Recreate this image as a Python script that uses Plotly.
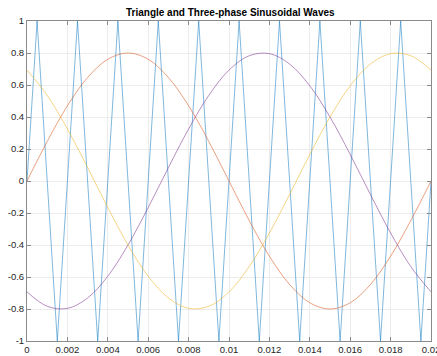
import plotly.graph_objects as go

# Time samples (s)
t_sin = [0.000, 0.001, 0.002, 0.003, 0.004, 0.005, 0.006, 0.007, 0.008, 0.009, 0.010,
         0.011, 0.012, 0.013, 0.014, 0.015, 0.016, 0.017, 0.018, 0.019, 0.020]
phase_a = [0.000, 0.247, 0.470, 0.647, 0.761, 0.800, 0.761, 0.647, 0.470, 0.247, 0.000,
           -0.247, -0.470, -0.647, -0.761, -0.800, -0.761, -0.647, -0.470, -0.247, 0.000]
phase_b = [-0.693, -0.783, -0.796, -0.731, -0.595, -0.400, -0.166, 0.084, 0.325, 0.535, 0.693,
           0.783, 0.796, 0.731, 0.595, 0.400, 0.166, -0.084, -0.325, -0.535, -0.693]
phase_c = [0.693, 0.535, 0.325, 0.084, -0.166, -0.400, -0.595, -0.731, -0.796, -0.783, -0.693,
           -0.535, -0.325, -0.084, 0.166, 0.400, 0.595, 0.731, 0.796, 0.783, 0.693]

# Triangle wave vertices
t_tri = [0.0, 0.0005, 0.0015, 0.0025, 0.0035, 0.0045, 0.0055, 0.0065, 0.0075, 0.0085, 0.0095,
         0.0105, 0.0115, 0.0125, 0.0135, 0.0145, 0.0155, 0.0165, 0.0175, 0.0185, 0.0195, 0.02]
tri = [0, 1, -1, 1, -1, 1, -1, 1, -1, 1, -1, 1, -1, 1, -1, 1, -1, 1, -1, 1, -1, 0]

x_ticks = [0, 0.002, 0.004, 0.006, 0.008, 0.01, 0.012, 0.014, 0.016, 0.018, 0.02]
x_tick_labels = ["0", "0.002", "0.004", "0.006", "0.008", "0.01", "0.012", "0.014", "0.016", "0.018", "0.02"]
y_ticks = [-1, -0.8, -0.6, -0.4, -0.2, 0, 0.2, 0.4, 0.6, 0.8, 1]
y_tick_labels = ["-1", "-0.8", "-0.6", "-0.4", "-0.2", "0", "0.2", "0.4", "0.6", "0.8", "1"]

fig = go.Figure()
fig.add_trace(go.Scatter(x=t_tri, y=tri, mode="lines",
                         line=dict(color="rgba(0,114,189,0.5)", width=1)))
fig.add_trace(go.Scatter(x=t_sin, y=phase_a, mode="lines",
                         line=dict(color="rgba(217,83,25,0.55)", width=1, shape="spline")))
fig.add_trace(go.Scatter(x=t_sin, y=phase_b, mode="lines",
                         line=dict(color="rgba(126,47,142,0.55)", width=1, shape="spline")))
fig.add_trace(go.Scatter(x=t_sin, y=phase_c, mode="lines",
                         line=dict(color="rgba(237,177,32,0.55)", width=1, shape="spline")))

axis_common = dict(
    showline=True, linecolor="#8a8a8a", linewidth=1, mirror="ticks",
    ticks="inside", ticklen=4, tickcolor="#8a8a8a",
    showgrid=True, gridcolor="#ececec", gridwidth=1,
    zeroline=False, automargin=False, ticklabeloverflow="allow",
    tickfont=dict(family="Liberation Sans, Arial, sans-serif", size=9.5, color="#262626"),
)

fig.update_layout(
    width=437, height=356,
    margin=dict(l=27, r=6, t=21, b=15, autoexpand=False),
    paper_bgcolor="white", plot_bgcolor="white",
    showlegend=False,
    title=dict(text="<b>Triangle and Three-phase Sinusoidal Waves</b>", automargin=False,
               x=0.527, xanchor="center", y=0.965, yanchor="middle",
               font=dict(family="Liberation Sans, Arial, sans-serif", size=10, color="#000000")),
    xaxis=dict(range=[0, 0.02], tickvals=x_ticks, ticktext=x_tick_labels, ticklabelstandoff=0, **axis_common),
    yaxis=dict(range=[-1, 1], tickvals=y_ticks, ticktext=y_tick_labels, **axis_common),
)

fig.write_html("out.html", config={"displayModeBar": False},
               post_script="document.body.style.margin='0';document.body.style.overflow='hidden';")
